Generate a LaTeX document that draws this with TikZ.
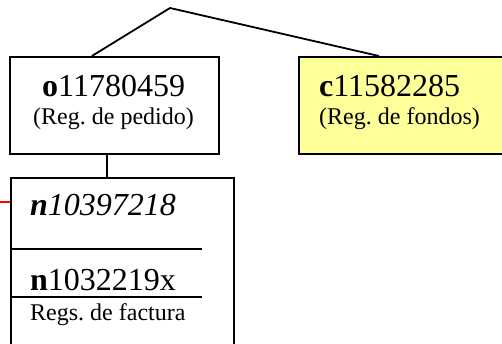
\documentclass[tikz,border=0pt]{standalone}
\usepackage{fontspec}
\setmainfont{Liberation Serif}
\usepackage{xcolor}
\usetikzlibrary{positioning}
\frenchspacing
\definecolor{regyellow}{RGB}{255,255,153}
\definecolor{regred}{RGB}{255,0,0}
\tikzstyle{regbox} = [draw=black, line width=1.8pt, inner sep=0pt]
\tikzstyle{link} = [line width=1.8pt, color=black]
\tikzstyle{bigtxt} = [inner sep=0pt, anchor=base west, font=\fontsize{32}{36}\selectfont]
\tikzstyle{smalltxt} = [inner sep=0pt, anchor=base west, font=\fontsize{24}{28}\selectfont]

\begin{document}
\begin{tikzpicture}[x=1pt,y=-1pt]
\useasboundingbox (0,0) rectangle (502,344);
% Boxes
\node[regbox, minimum width=209pt, minimum height=97pt, anchor=north west] (pedido) at (9,56) {};
\node[regbox, fill=regyellow, minimum width=230pt, minimum height=97pt, anchor=north west] (fondos) at (298,56) {};
\node[regbox, minimum width=223pt, minimum height=220pt, anchor=north west] (factura) at (10,177) {};

% Texts
\node[bigtxt] (pedidoid) at (42,97) {\textbf{o}11780459};
\node[smalltxt] (pedidolbl) at (33,125) {(Reg. de pedido)};
\node[bigtxt] (fondosid) at (319,97) {\textbf{c}11582285};
\node[smalltxt] (fondoslbl) at (319,125) {(Reg. de fondos)};
\node[bigtxt] (factid1) at (30,215) {\textbf{\textit{n}}\textit{10397218}};
\node[bigtxt] (factid2) at (30,290) {\textbf{n}1032219x};
\node[smalltxt] (factlbl) at (30,320) {Regs. de factura};

% Connections
\coordinate (apex) at (170,8);
\draw[link] (apex) -- ([xshift=-22.5pt]pedido.north);
\draw[link] (apex) -- ([xshift=-35pt]fondos.north);
\draw[link] ([xshift=-7.5pt]pedido.south) -- ([xshift=-7.5pt]pedido.south |- factura.north);

% Separators in the invoice box
\coordinate (sep1) at (202,249);
\coordinate (sep2) at (202,297);
\draw[link] (sep1 -| factura.west) -- (sep1);
\draw[link] (sep2 -| factura.west) -- (sep2);

% Red lead-in
\coordinate (redin) at (0,202);
\draw[regred, line width=1.3pt] (redin) -- (redin -| factura.west);
\end{tikzpicture}
\end{document}
